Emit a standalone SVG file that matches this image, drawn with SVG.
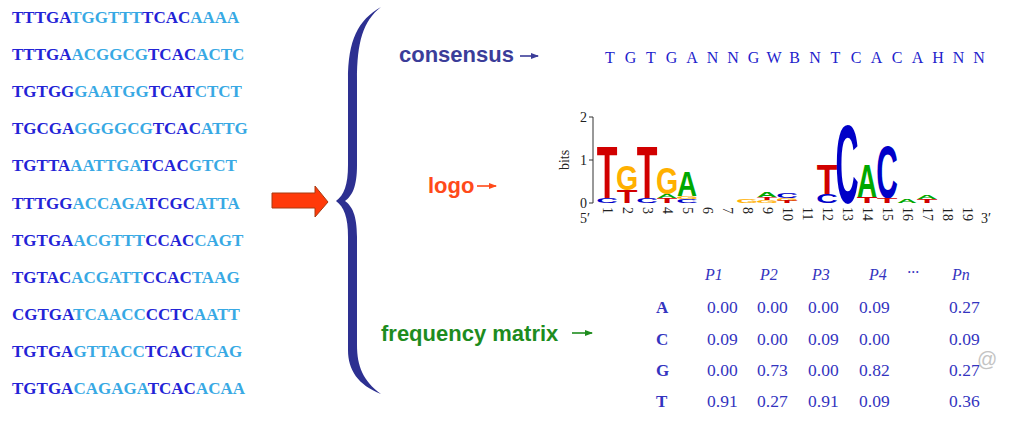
<svg xmlns="http://www.w3.org/2000/svg" width="1021" height="430" viewBox="0 0 1021 430">
<defs>
<style>
.seq{font-family:"Liberation Serif",serif;font-size:17px;font-weight:bold;fill:#2323d6}
.lt{fill:#38a9e4}
.lab{font-family:"Liberation Sans",Arial,sans-serif;font-size:22px;font-weight:bold}
.cons{font-family:"Liberation Serif",serif;font-size:16px;fill:#2222cc;text-anchor:middle}
.L{font-family:"Liberation Sans",Arial,sans-serif;font-size:10px;font-weight:bold;text-anchor:middle}
.T{fill:#d10000}.G{fill:#ffb000}.A{fill:#00a800}.C{fill:#0000c8}
.ax{font-family:"Liberation Serif",serif;font-size:14px;fill:#222}
.num{font-family:"Liberation Serif",serif;font-size:14px;fill:#222}
.mx{font-family:"Liberation Serif",serif;font-size:17.5px;fill:#3434c0}
.hd{font-family:"Liberation Serif",serif;font-size:16px;font-style:italic;fill:#3434c0}
.rl{font-family:"Liberation Serif",serif;font-size:17px;font-weight:bold;fill:#3434c0}
</style>
<marker id="ahB" markerWidth="8" markerHeight="8" refX="7" refY="4" orient="auto" markerUnits="userSpaceOnUse"><path d="M0,1 L8,4 L0,7 Z" fill="#3b3d99"/></marker>
<marker id="ahR" markerWidth="8" markerHeight="8" refX="7" refY="4" orient="auto" markerUnits="userSpaceOnUse"><path d="M0,1 L8,4 L0,7 Z" fill="#ff4a1a"/></marker>
<marker id="ahG" markerWidth="8" markerHeight="8" refX="7" refY="4" orient="auto" markerUnits="userSpaceOnUse"><path d="M0,1 L8,4 L0,7 Z" fill="#1e8c1e"/></marker>
</defs>
<rect width="1021" height="430" fill="#ffffff"/>

<g id="sequences">
<text class="seq" x="12" y="23">TTTGA<tspan class="lt">TGGTTT</tspan>TCAC<tspan class="lt">AAAA</tspan></text>
<text class="seq" x="12" y="60.1">TTTGA<tspan class="lt">ACGGCG</tspan>TCAC<tspan class="lt">ACTC</tspan></text>
<text class="seq" x="12" y="97.2">TGTGG<tspan class="lt">GAATGG</tspan>TCAT<tspan class="lt">CTCT</tspan></text>
<text class="seq" x="12" y="134.3">TGCGA<tspan class="lt">GGGGCG</tspan>TCAC<tspan class="lt">ATTG</tspan></text>
<text class="seq" x="12" y="171.4">TGTTA<tspan class="lt">AATTGA</tspan>TCAC<tspan class="lt">GTCT</tspan></text>
<text class="seq" x="12" y="208.5">TTTGG<tspan class="lt">ACCAGA</tspan>TCGC<tspan class="lt">ATTA</tspan></text>
<text class="seq" x="12" y="245.6">TGTGA<tspan class="lt">ACGTTT</tspan>CCAC<tspan class="lt">CAGT</tspan></text>
<text class="seq" x="12" y="282.7">TGTAC<tspan class="lt">ACGATT</tspan>CCAC<tspan class="lt">TAAG</tspan></text>
<text class="seq" x="12" y="319.8">CGTGA<tspan class="lt">TCAACC</tspan>CCTC<tspan class="lt">AATT</tspan></text>
<text class="seq" x="12" y="356.9">TGTGA<tspan class="lt">GTTACC</tspan>TCAC<tspan class="lt">TCAG</tspan></text>
<text class="seq" x="12" y="394">TGTGA<tspan class="lt">CAGAGA</tspan>TCAC<tspan class="lt">ACAA</tspan></text>
</g>

<g id="bigarrow">
<polygon points="272,193 315,193 315,186 328,202 315,217 315,208 272,208" fill="#ff3a0a" stroke="#a83a10" stroke-width="1"/>
</g>

<g id="brace">
<path d="M381,7 C358,20 348,40 348,80 L348,165 C348,185 344,195 336,201 C344,207 348,217 348,237 L348,350 C348,370 358,385 381,394 C363,381 357,366 357,345 L357,237 C357,215 352,206 345,201 C352,196 357,187 357,165 L357,80 C357,42 363,21 381,7 Z" fill="#2d3091"/>
</g>

<g id="labels">
<text class="lab" x="399" y="62" fill="#3b3d99">consensus</text>
<text class="lab" x="428" y="193" fill="#ff4a1a">logo</text>
<text class="lab" x="381" y="341" fill="#1e8c1e">frequency matrix</text>
</g>

<g id="connectors" stroke-width="1.6">
<line x1="520" y1="56" x2="538" y2="56" stroke="#3b3d99" marker-end="url(#ahB)"/>
<line x1="477" y1="186" x2="496" y2="186" stroke="#ff4a1a" marker-end="url(#ahR)"/>
<line x1="572" y1="333" x2="592" y2="333" stroke="#1e8c1e" marker-end="url(#ahG)"/>
</g>

<g id="consensus">
<text class="cons" x="610" y="63">T</text>
<text class="cons" x="630.5" y="63">G</text>
<text class="cons" x="651" y="63">T</text>
<text class="cons" x="671.5" y="63">G</text>
<text class="cons" x="692" y="63">A</text>
<text class="cons" x="712.5" y="63">N</text>
<text class="cons" x="733" y="63">N</text>
<text class="cons" x="753.5" y="63">G</text>
<text class="cons" x="774" y="63">W</text>
<text class="cons" x="794.5" y="63">B</text>
<text class="cons" x="815" y="63">N</text>
<text class="cons" x="835.5" y="63">T</text>
<text class="cons" x="856" y="63">C</text>
<text class="cons" x="876.5" y="63">A</text>
<text class="cons" x="897" y="63">C</text>
<text class="cons" x="917.5" y="63">A</text>
<text class="cons" x="938" y="63">H</text>
<text class="cons" x="958.5" y="63">N</text>
<text class="cons" x="979" y="63">N</text>
</g>

<g id="logo">
<g stroke="#333" stroke-width="1" fill="none">
<line x1="593" y1="117" x2="593" y2="203"/>
<line x1="589" y1="117" x2="593" y2="117"/>
<line x1="589" y1="160" x2="593" y2="160"/>
<line x1="589" y1="203" x2="593" y2="203"/>
</g>
<text class="ax" x="587" y="122" text-anchor="end">2</text>
<text class="ax" x="587" y="165" text-anchor="end">1</text>
<text class="ax" x="587" y="208" text-anchor="end">0</text>
<text class="ax" transform="translate(569,160) rotate(-90)" text-anchor="middle">bits</text>
<text class="ax" x="580" y="223">5′</text>
<text class="ax" x="981" y="223">3′</text>
<g class="num">
<text transform="translate(607,207) rotate(90)" y="4.5">1</text>
<text transform="translate(627,207) rotate(90)" y="4.5">2</text>
<text transform="translate(647,207) rotate(90)" y="4.5">3</text>
<text transform="translate(667,207) rotate(90)" y="4.5">4</text>
<text transform="translate(687,207) rotate(90)" y="4.5">5</text>
<text transform="translate(707,207) rotate(90)" y="4.5">6</text>
<text transform="translate(727,207) rotate(90)" y="4.5">7</text>
<text transform="translate(747,207) rotate(90)" y="4.5">8</text>
<text transform="translate(767,207) rotate(90)" y="4.5">9</text>
<text transform="translate(787,207) rotate(90)" y="4.5">10</text>
<text transform="translate(807,207) rotate(90)" y="4.5">11</text>
<text transform="translate(827,207) rotate(90)" y="4.5">12</text>
<text transform="translate(847,207) rotate(90)" y="4.5">13</text>
<text transform="translate(867,207) rotate(90)" y="4.5">14</text>
<text transform="translate(887,207) rotate(90)" y="4.5">15</text>
<text transform="translate(907,207) rotate(90)" y="4.5">16</text>
<text transform="translate(927,207) rotate(90)" y="4.5">17</text>
<text transform="translate(947,207) rotate(90)" y="4.5">18</text>
<text transform="translate(967,207) rotate(90)" y="4.5">19</text>
</g>
<text class="L T" transform="translate(607,198) scale(3.39,7.41)">T</text>
<text class="L C" transform="translate(607,203) scale(2.99,0.727)">C</text>
<text class="L G" transform="translate(627,190) scale(2.86,3.49)">G</text>
<text class="L T" transform="translate(627,203) scale(3.39,1.89)">T</text>
<text class="L T" transform="translate(647,198) scale(3.39,7.41)">T</text>
<text class="L C" transform="translate(647,203) scale(2.99,0.727)">C</text>
<text class="L G" transform="translate(667,194) scale(2.86,3.78)">G</text>
<text class="L A" transform="translate(667,198) scale(2.78,0.581)">A</text>
<text class="L T" transform="translate(667,203) scale(3.39,0.727)">T</text>
<text class="L A" transform="translate(687,196) scale(2.78,3.49)">A</text>
<text class="L G" transform="translate(687,199) scale(2.86,0.436)">G</text>
<text class="L C" transform="translate(687,203) scale(2.99,0.581)">C</text>
<text class="L G" transform="translate(747,203) scale(2.86,0.581)">G</text>
<text class="L A" transform="translate(767,197) scale(2.78,0.727)">A</text>
<text class="L T" transform="translate(767,200) scale(3.39,0.436)">T</text>
<text class="L G" transform="translate(767,203) scale(2.86,0.436)">G</text>
<text class="L C" transform="translate(787,198) scale(2.99,0.727)">C</text>
<text class="L G" transform="translate(787,201) scale(2.86,0.436)">G</text>
<text class="L T" transform="translate(787,203) scale(3.39,0.291)">T</text>
<text class="L T" transform="translate(827,194) scale(3.39,4.215)">T</text>
<text class="L C" transform="translate(827,203) scale(2.99,1.308)">C</text>
<text class="L C" transform="translate(847,203) scale(3.2,11.05)">C</text>
<text class="L A" transform="translate(867,197) scale(2.78,4.65)">A</text>
<text class="L T" transform="translate(867,203) scale(3.39,0.872)">T</text>
<text class="L C" transform="translate(887,198) scale(2.99,7.41)">C</text>
<text class="L T" transform="translate(887,203) scale(3.39,0.727)">T</text>
<text class="L A" transform="translate(907,203) scale(2.78,0.581)">A</text>
<text class="L A" transform="translate(927,199) scale(2.78,0.581)">A</text>
<text class="L T" transform="translate(927,203) scale(3.39,0.581)">T</text>
</g>

<g id="matrix">
<text class="hd" x="705" y="280">P1</text>
<text class="hd" x="760" y="280">P2</text>
<text class="hd" x="812" y="280">P3</text>
<text class="hd" x="869" y="280">P4</text>
<text class="hd" x="907" y="278">···</text>
<text class="hd" x="952" y="280">Pn</text>
<text class="rl" x="656" y="313">A</text>
<text class="rl" x="656" y="345">C</text>
<text class="rl" x="656" y="376">G</text>
<text class="rl" x="656" y="407">T</text>
<text class="mx" x="707" y="313">0.00</text>
<text class="mx" x="757" y="313">0.00</text>
<text class="mx" x="808" y="313">0.00</text>
<text class="mx" x="859" y="313">0.09</text>
<text class="mx" x="949" y="313">0.27</text>
<text class="mx" x="707" y="345">0.09</text>
<text class="mx" x="757" y="345">0.00</text>
<text class="mx" x="808" y="345">0.09</text>
<text class="mx" x="859" y="345">0.00</text>
<text class="mx" x="949" y="345">0.09</text>
<text class="mx" x="707" y="376">0.00</text>
<text class="mx" x="757" y="376">0.73</text>
<text class="mx" x="808" y="376">0.00</text>
<text class="mx" x="859" y="376">0.82</text>
<text class="mx" x="949" y="376">0.27</text>
<text class="mx" x="707" y="407">0.91</text>
<text class="mx" x="757" y="407">0.27</text>
<text class="mx" x="808" y="407">0.91</text>
<text class="mx" x="859" y="407">0.09</text>
<text class="mx" x="949" y="407">0.36</text>
</g>

<g id="watermark">
<text x="977" y="366" font-family="Liberation Sans, Arial, sans-serif" font-size="20" fill="#c4c4c4">@</text>
</g>
</svg>
